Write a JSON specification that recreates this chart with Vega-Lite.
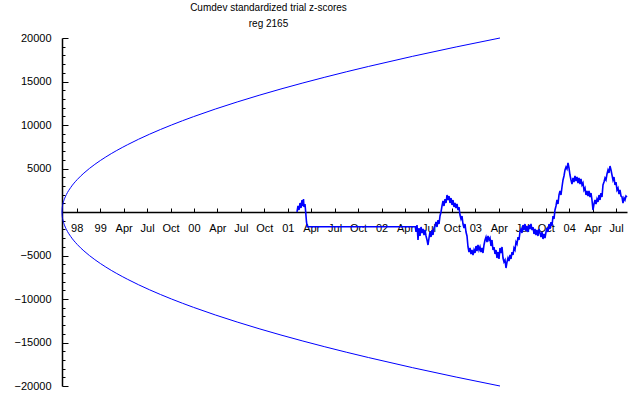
{
  "$schema": "https://vega.github.io/schema/vega-lite/v6.json",
  "width": 565,
  "height": 348,
  "autosize": {"type": "none"},
  "padding": {"left": 62, "top": 38, "right": 13, "bottom": 9},
  "background": "white",
  "config": {"view": {"stroke": null}, "font": "Liberation Sans"},
  "title": {
    "text": "Cumdev  standardized  trial z-scores",
    "subtitle": "reg 2165",
    "font": "Liberation Sans",
    "subtitleFont": "Liberation Sans",
    "fontSize": 10,
    "subtitleFontSize": 10,
    "fontWeight": "normal",
    "color": "black",
    "subtitleColor": "black",
    "anchor": "middle",
    "dx": -76,
    "offset": 3,
    "subtitlePadding": 6
  },
  "datasets": {
    "env": [
      {"side": "upper", "t": 0.373, "v": 0},
      {"side": "upper", "t": 0.382, "v": 447},
      {"side": "upper", "t": 0.410, "v": 894},
      {"side": "upper", "t": 0.466, "v": 1414},
      {"side": "upper", "t": 0.560, "v": 2000},
      {"side": "upper", "t": 0.747, "v": 2828},
      {"side": "upper", "t": 1.027, "v": 3742},
      {"side": "upper", "t": 1.307, "v": 4472},
      {"side": "upper", "t": 1.774, "v": 5477},
      {"side": "upper", "t": 2.241, "v": 6325},
      {"side": "upper", "t": 3.175, "v": 7746},
      {"side": "upper", "t": 4.109, "v": 8944},
      {"side": "upper", "t": 5.043, "v": 10000},
      {"side": "upper", "t": 5.976, "v": 10954},
      {"side": "upper", "t": 7.844, "v": 12649},
      {"side": "upper", "t": 9.712, "v": 14142},
      {"side": "upper", "t": 11.580, "v": 15492},
      {"side": "upper", "t": 13.448, "v": 16733},
      {"side": "upper", "t": 15.315, "v": 17889},
      {"side": "upper", "t": 17.183, "v": 18974},
      {"side": "upper", "t": 19.051, "v": 20000},
      {"side": "lower", "t": 0.373, "v": 0},
      {"side": "lower", "t": 0.382, "v": -447},
      {"side": "lower", "t": 0.410, "v": -894},
      {"side": "lower", "t": 0.466, "v": -1414},
      {"side": "lower", "t": 0.560, "v": -2000},
      {"side": "lower", "t": 0.747, "v": -2828},
      {"side": "lower", "t": 1.027, "v": -3742},
      {"side": "lower", "t": 1.307, "v": -4472},
      {"side": "lower", "t": 1.774, "v": -5477},
      {"side": "lower", "t": 2.241, "v": -6325},
      {"side": "lower", "t": 3.175, "v": -7746},
      {"side": "lower", "t": 4.109, "v": -8944},
      {"side": "lower", "t": 5.043, "v": -10000},
      {"side": "lower", "t": 5.976, "v": -10954},
      {"side": "lower", "t": 7.844, "v": -12649},
      {"side": "lower", "t": 9.712, "v": -14142},
      {"side": "lower", "t": 11.580, "v": -15492},
      {"side": "lower", "t": 13.448, "v": -16733},
      {"side": "lower", "t": 15.315, "v": -17889},
      {"side": "lower", "t": 17.183, "v": -18974},
      {"side": "lower", "t": 19.051, "v": -20000}
    ],
    "cum": [
      {"t": 10.394, "v": 0}, {"t": 10.437, "v": 690}, {"t": 10.479, "v": 230}, {"t": 10.522, "v": 1034},
      {"t": 10.565, "v": 460}, {"t": 10.607, "v": 1379}, {"t": 10.650, "v": 690}, {"t": 10.671, "v": 1494},
      {"t": 10.693, "v": 575}, {"t": 10.735, "v": 920}, {"t": 10.765, "v": 0}, {"t": 10.799, "v": -1149},
      {"t": 10.834, "v": -1690}, {"t": 15.439, "v": -1690},
      {"t": 15.469, "v": -2299}, {"t": 15.512, "v": -1494}, {"t": 15.555, "v": -3218}, {"t": 15.597, "v": -1839},
      {"t": 15.640, "v": -2759}, {"t": 15.683, "v": -1724}, {"t": 15.725, "v": -2414}, {"t": 15.768, "v": -1954},
      {"t": 15.811, "v": -2644}, {"t": 15.853, "v": -2069}, {"t": 15.896, "v": -2759}, {"t": 15.939, "v": -3218},
      {"t": 15.981, "v": -3793}, {"t": 16.024, "v": -2988}, {"t": 16.066, "v": -2299}, {"t": 16.109, "v": -2874},
      {"t": 16.152, "v": -2069}, {"t": 16.194, "v": -2644}, {"t": 16.237, "v": -1839}, {"t": 16.280, "v": -1609},
      {"t": 16.322, "v": -1149}, {"t": 16.365, "v": -1724}, {"t": 16.408, "v": -920}, {"t": 16.450, "v": -1379},
      {"t": 16.493, "v": -460}, {"t": 16.535, "v": 0}, {"t": 16.578, "v": 690}, {"t": 16.621, "v": 1264},
      {"t": 16.663, "v": 690}, {"t": 16.706, "v": 1494}, {"t": 16.749, "v": 1034}, {"t": 16.791, "v": 1954},
      {"t": 16.834, "v": 1379}, {"t": 16.877, "v": 1839}, {"t": 16.919, "v": 1034}, {"t": 16.962, "v": 1609},
      {"t": 17.004, "v": 805}, {"t": 17.047, "v": 1379}, {"t": 17.090, "v": 575}, {"t": 17.132, "v": 1034},
      {"t": 17.175, "v": 460}, {"t": 17.218, "v": 920}, {"t": 17.260, "v": 230}, {"t": 17.303, "v": 575},
      {"t": 17.345, "v": -345}, {"t": 17.388, "v": -805}, {"t": 17.431, "v": -460}, {"t": 17.473, "v": -1379},
      {"t": 17.516, "v": -1839}, {"t": 17.559, "v": -1379}, {"t": 17.601, "v": -2299}, {"t": 17.644, "v": -2759},
      {"t": 17.687, "v": -4023}, {"t": 17.729, "v": -4598}, {"t": 17.772, "v": -4138}, {"t": 17.815, "v": -4827},
      {"t": 17.857, "v": -4368}, {"t": 17.900, "v": -4942}, {"t": 17.943, "v": -4368}, {"t": 17.985, "v": -4713},
      {"t": 18.028, "v": -3908}, {"t": 18.070, "v": -4483}, {"t": 18.113, "v": -3793}, {"t": 18.156, "v": -4368},
      {"t": 18.198, "v": -4023}, {"t": 18.241, "v": -4598}, {"t": 18.284, "v": -4138}, {"t": 18.326, "v": -4713},
      {"t": 18.369, "v": -3793}, {"t": 18.412, "v": -3218}, {"t": 18.454, "v": -2874}, {"t": 18.497, "v": -3448},
      {"t": 18.540, "v": -2759}, {"t": 18.582, "v": -3218}, {"t": 18.625, "v": -2988}, {"t": 18.667, "v": -3908},
      {"t": 18.710, "v": -3218}, {"t": 18.753, "v": -4368}, {"t": 18.795, "v": -4023}, {"t": 18.838, "v": -4827},
      {"t": 18.881, "v": -4368}, {"t": 18.923, "v": -5287}, {"t": 18.966, "v": -4598}, {"t": 19.009, "v": -5402},
      {"t": 19.051, "v": -4138}, {"t": 19.094, "v": -4713}, {"t": 19.137, "v": -4023}, {"t": 19.179, "v": -5287},
      {"t": 19.222, "v": -5747}, {"t": 19.265, "v": -5517}, {"t": 19.307, "v": -6437}, {"t": 19.350, "v": -5747},
      {"t": 19.392, "v": -5287}, {"t": 19.435, "v": -5632}, {"t": 19.478, "v": -4942}, {"t": 19.520, "v": -5402},
      {"t": 19.563, "v": -4598}, {"t": 19.606, "v": -4942}, {"t": 19.648, "v": -4138}, {"t": 19.691, "v": -4368},
      {"t": 19.734, "v": -3448}, {"t": 19.776, "v": -3678}, {"t": 19.819, "v": -2874}, {"t": 19.861, "v": -3218},
      {"t": 19.904, "v": -2299}, {"t": 19.947, "v": -1954}, {"t": 19.989, "v": -2414}, {"t": 20.032, "v": -1494},
      {"t": 20.075, "v": -2069}, {"t": 20.117, "v": -1379}, {"t": 20.160, "v": -2184}, {"t": 20.203, "v": -1609},
      {"t": 20.245, "v": -2299}, {"t": 20.288, "v": -1494}, {"t": 20.330, "v": -1954}, {"t": 20.373, "v": -1379},
      {"t": 20.416, "v": -2069}, {"t": 20.458, "v": -1724}, {"t": 20.501, "v": -2529}, {"t": 20.544, "v": -1954},
      {"t": 20.586, "v": -2644}, {"t": 20.629, "v": -2069}, {"t": 20.672, "v": -2759}, {"t": 20.714, "v": -1954},
      {"t": 20.757, "v": -2414}, {"t": 20.799, "v": -2874}, {"t": 20.842, "v": -2299}, {"t": 20.885, "v": -3103},
      {"t": 20.927, "v": -2529}, {"t": 20.970, "v": -2988}, {"t": 21.013, "v": -2299}, {"t": 21.055, "v": -1839},
      {"t": 21.098, "v": -2299}, {"t": 21.141, "v": -1379}, {"t": 21.183, "v": -1954}, {"t": 21.226, "v": -1149},
      {"t": 21.269, "v": -1609}, {"t": 21.311, "v": -460}, {"t": 21.354, "v": -805}, {"t": 21.396, "v": 230},
      {"t": 21.439, "v": 690}, {"t": 21.482, "v": 1379}, {"t": 21.524, "v": 920}, {"t": 21.567, "v": 1954},
      {"t": 21.610, "v": 2414}, {"t": 21.652, "v": 1954}, {"t": 21.695, "v": 2874}, {"t": 21.738, "v": 3678},
      {"t": 21.780, "v": 4138}, {"t": 21.823, "v": 4827}, {"t": 21.866, "v": 5172}, {"t": 21.908, "v": 4942},
      {"t": 21.951, "v": 5632}, {"t": 21.993, "v": 5057}, {"t": 22.036, "v": 4253}, {"t": 22.079, "v": 3678},
      {"t": 22.121, "v": 3218}, {"t": 22.164, "v": 3908}, {"t": 22.207, "v": 3448}, {"t": 22.249, "v": 4138},
      {"t": 22.292, "v": 3563}, {"t": 22.335, "v": 4023}, {"t": 22.377, "v": 3333}, {"t": 22.420, "v": 3908},
      {"t": 22.463, "v": 3218}, {"t": 22.505, "v": 3793}, {"t": 22.548, "v": 3103}, {"t": 22.590, "v": 3333},
      {"t": 22.633, "v": 2529}, {"t": 22.676, "v": 2759}, {"t": 22.718, "v": 1954}, {"t": 22.761, "v": 2414},
      {"t": 22.804, "v": 1839}, {"t": 22.846, "v": 2414}, {"t": 22.889, "v": 1724}, {"t": 22.932, "v": 2184},
      {"t": 22.974, "v": 1379}, {"t": 23.017, "v": 230}, {"t": 23.060, "v": 920}, {"t": 23.102, "v": 1379},
      {"t": 23.145, "v": 920}, {"t": 23.187, "v": 1494}, {"t": 23.230, "v": 1149}, {"t": 23.273, "v": 1954},
      {"t": 23.316, "v": 1379}, {"t": 23.358, "v": 2184}, {"t": 23.401, "v": 1724}, {"t": 23.443, "v": 3103},
      {"t": 23.486, "v": 3448}, {"t": 23.529, "v": 3908}, {"t": 23.571, "v": 3678}, {"t": 23.614, "v": 4368},
      {"t": 23.657, "v": 4827}, {"t": 23.699, "v": 4483}, {"t": 23.742, "v": 5287}, {"t": 23.785, "v": 4827},
      {"t": 23.827, "v": 4253}, {"t": 23.870, "v": 3678}, {"t": 23.912, "v": 4023}, {"t": 23.955, "v": 3103},
      {"t": 23.998, "v": 3448}, {"t": 24.040, "v": 2529}, {"t": 24.083, "v": 2759}, {"t": 24.126, "v": 2069},
      {"t": 24.168, "v": 2529}, {"t": 24.211, "v": 1839}, {"t": 24.254, "v": 1724}, {"t": 24.296, "v": 1034},
      {"t": 24.339, "v": 1609}, {"t": 24.381, "v": 1379}, {"t": 24.424, "v": 1839}, {"t": 24.467, "v": 1724}
    ]
  },
  "encoding": {
    "x": {
      "field": "t",
      "type": "quantitative",
      "scale": {"domain": [0.373, 24.467], "nice": false, "zero": false},
      "axis": {
        "orient": "bottom",
        "offset": -174,
        "title": null,
        "grid": false,
        "values": [1, 2, 3, 4, 5, 6, 7, 8, 9, 10, 11, 12, 13, 14, 15, 16, 17, 18, 19, 20, 21, 22, 23, 24],
        "labelExpr": "['98','99','Apr','Jul','Oct','00','Apr','Jul','Oct','01','Apr','Jul','Oct','02','Apr','Jul','Oct','03','Apr','Jul','Oct','04','Apr','Jul'][datum.value - 1]",
        "tickSize": -4,
        "tickColor": "black",
        "tickWidth": 1,
        "domainColor": "black",
        "domainWidth": 1.5,
        "labelColor": "black",
        "labelFont": "Liberation Sans",
        "labelFontSize": 11,
        "labelBaseline": "top",
        "labelPadding": 14,
        "labelFlush": false,
        "labelOverlap": false,
        "labelBound": false
      }
    },
    "y": {
      "field": "v",
      "type": "quantitative",
      "scale": {"domain": [-20000, 20000], "nice": false},
      "axis": {
        "orient": "left",
        "title": null,
        "grid": false,
        "values": [-20000, -19000, -18000, -17000, -16000, -15000, -14000, -13000, -12000, -11000, -10000, -9000, -8000, -7000, -6000, -5000, -4000, -3000, -2000, -1000, 0, 1000, 2000, 3000, 4000, 5000, 6000, 7000, 8000, 9000, 10000, 11000, 12000, 13000, 14000, 15000, 16000, 17000, 18000, 19000, 20000],
        "format": "d",
        "labelExpr": "(datum.value % 5000 === 0 && datum.value !== 0) ? datum.label : ''",
        "tickSize": {"condition": {"test": "datum.value % 5000 === 0", "value": -6}, "value": -3},
        "tickColor": "black",
        "tickWidth": 1,
        "domainColor": "black",
        "domainWidth": 1.5,
        "labelColor": "black",
        "labelFont": "Liberation Sans",
        "labelFontSize": 11,
        "labelPadding": 17,
        "labelFlush": false,
        "labelOverlap": false,
        "labelBound": false
      }
    }
  },
  "layer": [
    {
      "data": {"name": "env"},
      "mark": {"type": "line", "color": "#0000ff", "strokeWidth": 1, "interpolate": "monotone"},
      "encoding": {"detail": {"field": "side"}}
    },
    {
      "data": {"name": "cum"},
      "mark": {"type": "line", "color": "#0000ff", "strokeWidth": 1.6},
      "encoding": {}
    }
  ]
}
